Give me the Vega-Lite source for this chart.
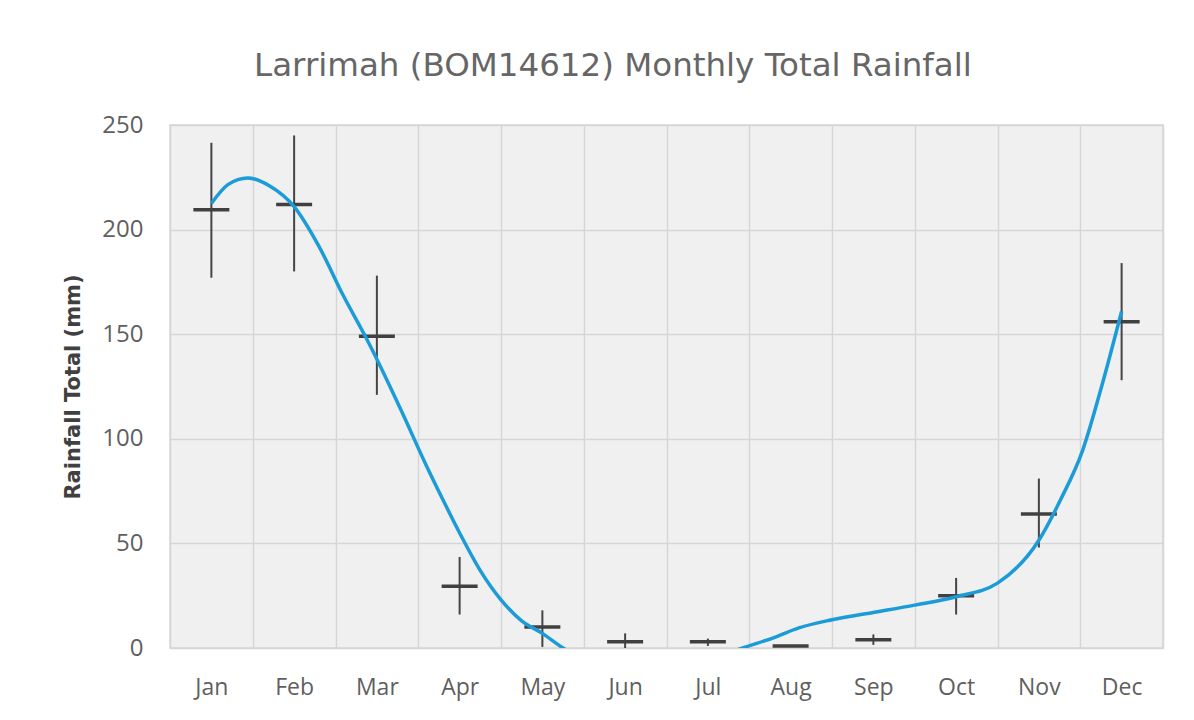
{
  "$schema": "https://vega.github.io/schema/vega-lite/v6.json",
  "autosize": {"type": "none"},
  "width": 993,
  "height": 523,
  "padding": {"left": 170, "top": 125, "right": 31, "bottom": 72},
  "background": "white",
  "title": {
    "text": "Larrimah (BOM14612) Monthly Total Rainfall",
    "font": "DejaVu Sans",
    "fontSize": 32.5,
    "fontWeight": "normal",
    "color": "#666666",
    "anchor": "middle",
    "frame": "bounds",
    "offset": 31
  },
  "config": {
    "view": {"fill": "#f0f0f0", "stroke": "#d6d6d6", "strokeWidth": 1.5},
    "axis": {"labelFont": "Open Sans", "labelColor": "#5f5f5f", "gridColor": "#d6d6d6", "gridWidth": 1.5, "domain": false, "ticks": false}
  },
  "datasets": {
    "stats": [
      {"month": "Jan", "mean": 209.5, "lo": 177, "hi": 241.5},
      {"month": "Feb", "mean": 212, "lo": 180, "hi": 245},
      {"month": "Mar", "mean": 149, "lo": 121, "hi": 178},
      {"month": "Apr", "mean": 29.5, "lo": 16, "hi": 43.5},
      {"month": "May", "mean": 10, "lo": 0.5, "hi": 18},
      {"month": "Jun", "mean": 3, "lo": 0, "hi": 7},
      {"month": "Jul", "mean": 3, "lo": 1, "hi": 4.5},
      {"month": "Aug", "mean": 1, "lo": 0.5, "hi": 1.5},
      {"month": "Sep", "mean": 4, "lo": 1.5, "hi": 6.5},
      {"month": "Oct", "mean": 25, "lo": 16, "hi": 33.5},
      {"month": "Nov", "mean": 64, "lo": 48, "hi": 81},
      {"month": "Dec", "mean": 156, "lo": 128, "hi": 184}
    ],
    "trend": [
      {"t": 1.0, "v": 212.5},
      {"t": 1.2, "v": 221.5},
      {"t": 1.44, "v": 224.7},
      {"t": 1.7, "v": 221},
      {"t": 2.0, "v": 211},
      {"t": 2.3, "v": 192},
      {"t": 2.6, "v": 168},
      {"t": 2.86, "v": 149},
      {"t": 3.0, "v": 138},
      {"t": 3.3, "v": 113},
      {"t": 3.6, "v": 87},
      {"t": 3.8, "v": 70.7},
      {"t": 4.0, "v": 55},
      {"t": 4.25, "v": 37},
      {"t": 4.5, "v": 23},
      {"t": 4.75, "v": 13},
      {"t": 5.0, "v": 7},
      {"t": 5.25, "v": 0},
      {"t": 5.6, "v": -7},
      {"t": 6.0, "v": -11},
      {"t": 6.4, "v": -11},
      {"t": 6.8, "v": -8},
      {"t": 7.2, "v": -3},
      {"t": 7.42, "v": 0},
      {"t": 7.8, "v": 5},
      {"t": 8.1, "v": 9.6},
      {"t": 8.5, "v": 13.5},
      {"t": 9.0, "v": 17},
      {"t": 9.5, "v": 20.5},
      {"t": 10.0, "v": 24.5},
      {"t": 10.5, "v": 31},
      {"t": 11.0, "v": 51.5},
      {"t": 11.26, "v": 70.7},
      {"t": 11.53, "v": 94.6},
      {"t": 11.77, "v": 126.7},
      {"t": 12.0, "v": 161}
    ]
  },
  "layer": [
    {
      "data": {"name": "stats"},
      "encoding": {
        "x": {
          "field": "month", "type": "ordinal",
          "sort": ["Jan","Feb","Mar","Apr","May","Jun","Jul","Aug","Sep","Oct","Nov","Dec"],
          "scale": {"type": "band", "paddingInner": 0, "paddingOuter": 0},
          "axis": {"title": null, "labelAngle": 0, "labelFontSize": 23, "labelPadding": 28, "tickBand": "extent", "grid": true}
        }
      },
      "layer": [
        {
          "mark": {"type": "rule", "color": "#454545", "strokeWidth": 2},
          "encoding": {
            "y": {
              "field": "lo", "type": "quantitative",
              "scale": {"domain": [0, 250], "nice": false},
              "axis": {
                "title": "Rainfall Total (mm)", "titleFont": "DejaVu Sans", "titleFontWeight": "bold", "titleFontSize": 21, "titleColor": "#404040", "titlePadding": 18,
                "values": [0, 50, 100, 150, 200, 250], "labelFontSize": 24, "labelPadding": 27
              }
            },
            "y2": {"field": "hi"}
          }
        },
        {
          "mark": {"type": "tick", "orient": "horizontal", "color": "#404040", "opacity": 1, "size": 36, "thickness": 3.5},
          "encoding": {
            "y": {"field": "mean", "type": "quantitative"}
          }
        }
      ]
    },
    {
      "data": {"name": "trend"},
      "mark": {"type": "line", "color": "#1b9bd7", "strokeWidth": 3.5, "interpolate": "monotone", "clip": true},
      "encoding": {
        "x": {"field": "t", "type": "quantitative", "scale": {"domain": [0.5, 12.5], "nice": false, "zero": false}, "axis": null},
        "y": {"field": "v", "type": "quantitative"}
      }
    }
  ],
  "resolve": {"scale": {"x": "independent"}}
}
